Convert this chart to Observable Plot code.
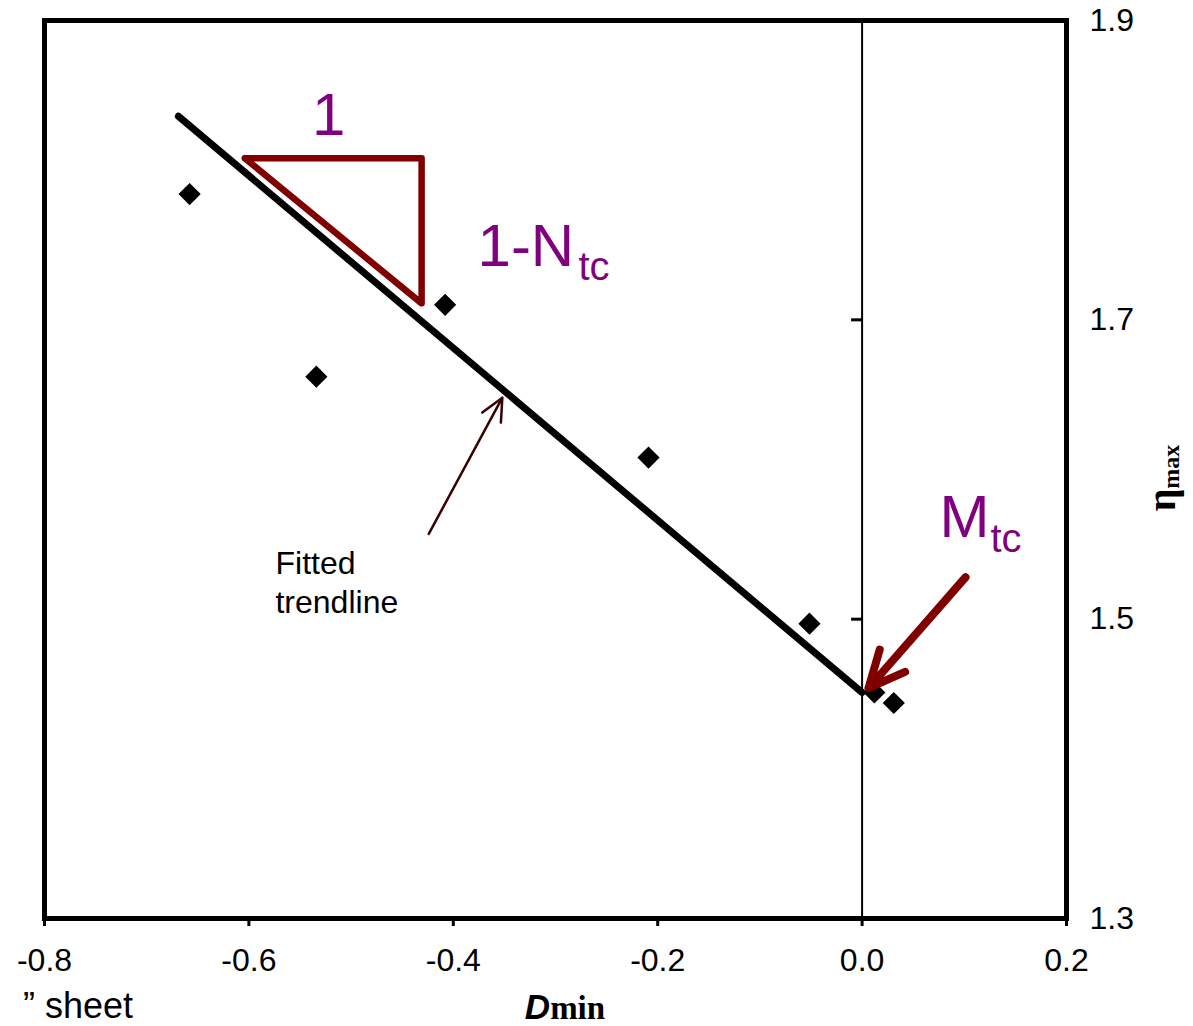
<!DOCTYPE html>
<html><head><meta charset="utf-8">
<script src="https://cdn.jsdelivr.net/npm/d3@7"></script>
<script src="https://cdn.jsdelivr.net/npm/@observablehq/plot@0.6"></script>
<style>body{margin:0;background:#fff;} svg{display:block;}</style>
</head><body><div id="chart"></div>
<script>
// ---- data ----
const xTicks = [-0.8, -0.6, -0.4, -0.2, 0.0, 0.2];
const yTicks = [1.3, 1.5, 1.7, 1.9];
const dminValues = [-0.658, -0.534, -0.408, -0.209, -0.0515, 0.012, 0.031];
const etaValues  = [1.784, 1.662, 1.710, 1.608, 1.497, 1.451, 1.444];
const trendDmin = [-0.669, 0.0];
const trendEta  = [1.836, 1.451];
const triangleDmin = [-0.604, -0.431, -0.431, -0.604];
const triangleEta  = [1.808, 1.808, 1.711, 1.808];
const labelTexts = ["1", "1-N", "tc", "M", "tc"];
const labelDmin  = [-0.522, -0.3763, -0.2775, 0.0757, 0.1256];
const labelEta   = [1.8238, 1.7363, 1.7263, 1.5546, 1.5446];
const labelSizes = [60, 60, 40, 60, 40];
const noteText = ["Fitted\ntrendline"];
const noteDmin = [-0.574];
const noteEta = [1.5489];
const mtcArrow = [{x1: 0.1012, y1: 1.528, x2: 0.0063, y2: 1.454}];
const fitArrow = [{x1: -0.424, y1: 1.557, x2: -0.352, y2: 1.648}];

const points = dminValues.map((d, i) => ({d, eta: etaValues[i]}));
const trend = trendDmin.map((d, i) => ({d, eta: trendEta[i]}));
const triangle = triangleDmin.map((d, i) => ({d, eta: triangleEta[i]}));
const labels = labelTexts.map((t, i) => ({t, d: labelDmin[i], eta: labelEta[i], s: labelSizes[i]}));
const notes = noteText.map((t, i) => ({t, d: noteDmin[i], eta: noteEta[i]}));

const tickLeft = {draw(ctx) { ctx.moveTo(-11, 0); ctx.lineTo(0, 0); }};

const fmt = d => d.toFixed(1);

const plot = Plot.plot({
  width: 1193,
  height: 1026,
  marginLeft: 44,
  marginRight: 127,
  marginTop: 20,
  marginBottom: 108,
  style: {fontFamily: "'Liberation Sans', Arial, sans-serif", background: "#fff", color: "#000"},
  x: {domain: [-0.8, 0.2]},
  y: {domain: [1.3, 1.9]},
  marks: [
    Plot.ruleX([0], {stroke: "#000", strokeWidth: 2}),
    Plot.dot(yTicks, {x: () => 0, y: d => d, symbol: tickLeft, stroke: "#000", strokeWidth: 3, fill: "none"}),
    Plot.frame({stroke: "#000", strokeWidth: 5}),
    Plot.axisX({ticks: xTicks, tickFormat: fmt, tickSize: 8, tickPadding: 22, fontSize: 32, strokeWidth: 3, label: null}),
    Plot.axisY({anchor: "right", ticks: yTicks, tickFormat: fmt, tickSize: 0, tickPadding: 23, fontSize: 32, label: null}),
    Plot.line(trend, {x: "d", y: "eta", stroke: "#000", strokeWidth: 7, strokeLinecap: "round"}),
    Plot.line(triangle, {x: "d", y: "eta", stroke: "#800000", strokeWidth: 6.5, strokeLinejoin: "round", strokeLinecap: "round"}),
    Plot.dot(points, {x: "d", y: "eta", symbol: "diamond2", r: 10, fill: "#000", stroke: "none"}),
    Plot.arrow(mtcArrow, {x1: "x1", y1: "y1", x2: "x2", y2: "y2", stroke: "#800000", strokeWidth: 8, headLength: 7.5, headAngle: 50}),
    Plot.arrow(fitArrow, {x1: "x1", y1: "y1", x2: "x2", y2: "y2", stroke: "#3a0000", strokeWidth: 2.5, headLength: 15, headAngle: 50}),
    Plot.text(labels, {x: "d", y: "eta", text: "t", fontSize: d => d.s, fill: "#800080",
      textAnchor: "start", lineAnchor: "bottom"}),
    Plot.text(notes, {x: "d", y: "eta", text: "t", fontSize: 32, fill: "#000",
      textAnchor: "start", lineAnchor: "top", lineHeight: 1.22})
  ]
});

document.getElementById("chart").appendChild(plot);
const svg = d3.select(plot);
// the "1" label centered over the triangle top
svg.selectAll("text").filter(function() { return this.textContent === "1"; })
  .attr("text-anchor", "middle");

// x axis title
const xt = svg.append("text").attr("x", 565).attr("y", 1019).attr("text-anchor", "middle");
xt.append("tspan").text("D").attr("font-family", "'Liberation Sans', Arial, sans-serif")
  .attr("font-weight", "bold").attr("font-style", "italic").attr("font-size", 35);
xt.append("tspan").text("min").attr("font-family", "'Liberation Serif', 'Times New Roman', serif")
  .attr("font-weight", "bold").attr("font-size", 33);

// y axis title
const yt = svg.append("text").attr("transform", "translate(1175,478) rotate(-90)").attr("text-anchor", "middle")
  .attr("font-family", "'Liberation Serif', 'Times New Roman', serif").attr("font-weight", "bold");
yt.append("tspan").text("η").attr("font-size", 40);
yt.append("tspan").text("max").attr("font-size", 24).attr("dy", 4);

// caption fragment at bottom left
svg.append("text").attr("x", 133).attr("y", 1018).attr("text-anchor", "end")
  .attr("font-size", 36).attr("font-family", "'Liberation Sans', Arial, sans-serif").text("” sheet");
</script>
</body></html>
